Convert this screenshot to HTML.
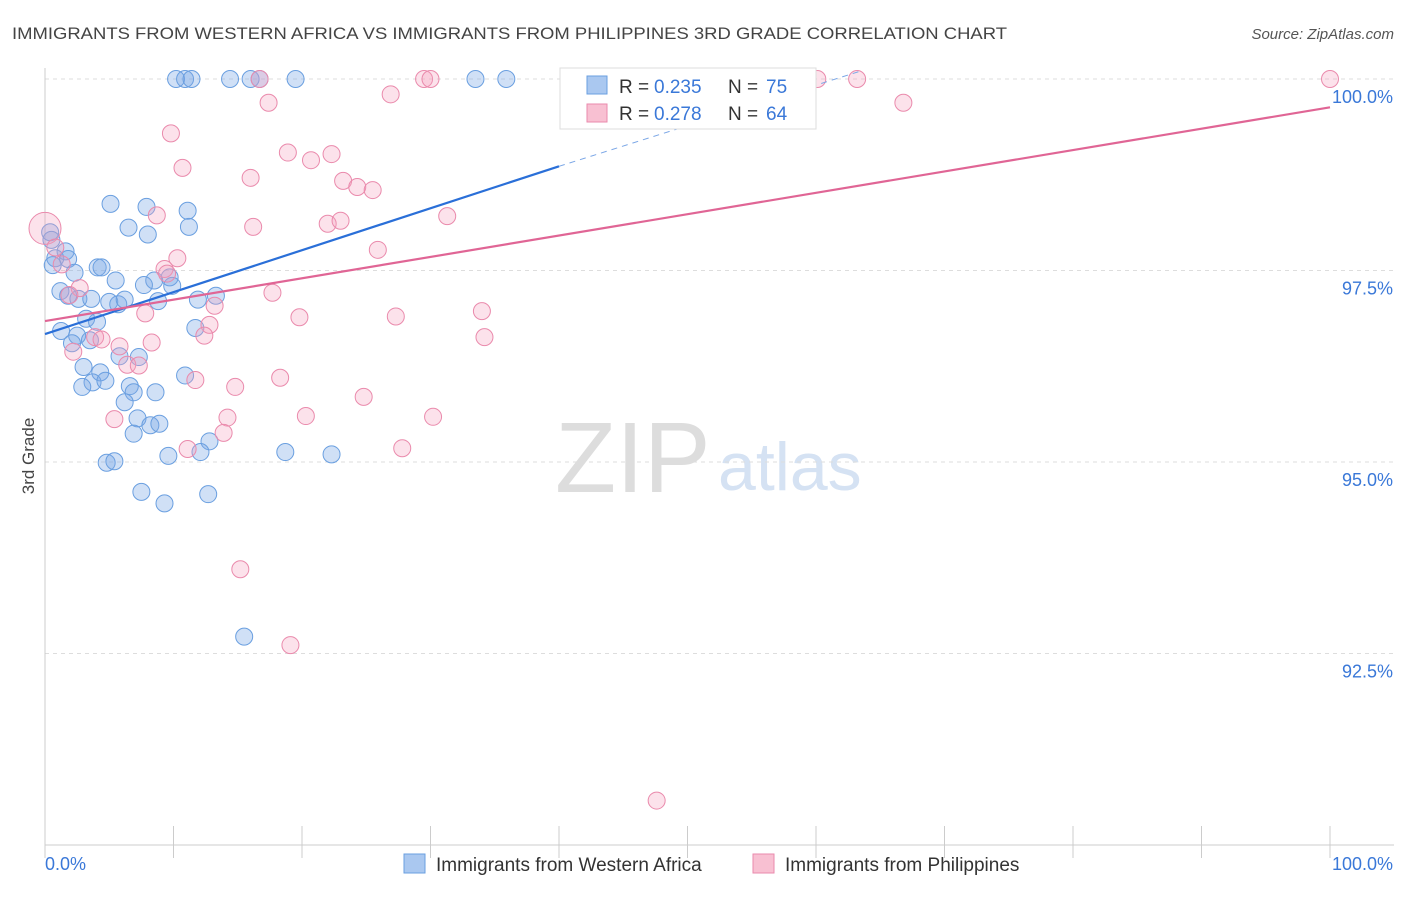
<!DOCTYPE html>
<html><head><meta charset="utf-8"><style>
body{margin:0;background:#fff;font-family:"Liberation Sans",sans-serif;}
svg text{font-family:"Liberation Sans",sans-serif;}
</style></head><body>
<svg id="chart" width="1406" height="892" xmlns="http://www.w3.org/2000/svg">
<text x="12" y="39" font-size="17" fill="#444" textLength="995" lengthAdjust="spacingAndGlyphs">IMMIGRANTS FROM WESTERN AFRICA VS IMMIGRANTS FROM PHILIPPINES 3RD GRADE CORRELATION CHART</text>
<text x="1394" y="39" font-size="15" fill="#555" font-style="italic" text-anchor="end">Source: ZipAtlas.com</text>
<text x="34" y="456" font-size="17" fill="#444" text-anchor="middle" transform="rotate(-90 34 456)">3rd Grade</text>
<text x="555" y="492" font-size="100" fill="#ddd" font-family="Liberation Serif">ZIP</text>
<text x="718" y="490" font-size="68" fill="#d5e2f3">atlas</text>
<g id="grid"></g><g id="axes"></g><g id="pts"></g><g id="trend"></g>
<g>
<rect x="560" y="68" width="256" height="61" fill="#fff" stroke="#ddd"/>
<rect x="587" y="76" width="20" height="18" fill="#aac8f0" stroke="#6a9fe0"/>
<text x="619" y="93" font-size="19" fill="#333">R =</text>
<text x="654" y="93" font-size="19" fill="#3a78d8">0.235</text>
<text x="728" y="93" font-size="19" fill="#333">N =</text>
<text x="766" y="93" font-size="19" fill="#3a78d8">75</text>
<rect x="587" y="104" width="20" height="18" fill="#f8c0d2" stroke="#ea8aac"/>
<text x="619" y="120" font-size="19" fill="#333">R =</text>
<text x="654" y="120" font-size="19" fill="#3a78d8">0.278</text>
<text x="728" y="120" font-size="19" fill="#333">N =</text>
<text x="766" y="120" font-size="19" fill="#3a78d8">64</text>
</g>
<g>
<rect x="404" y="854" width="21" height="19" fill="#aac8f0" stroke="#6a9fe0"/>
<text x="436" y="871" font-size="19" fill="#333">Immigrants from Western Africa</text>
<rect x="753" y="854" width="21" height="19" fill="#f8c0d2" stroke="#ea8aac"/>
<text x="785" y="871" font-size="19" fill="#333">Immigrants from Philippines</text>
</g>
</svg>
<script>
const yTicks=[100,97.5,95,92.5];
const yTickLabels=["100.0%","97.5%","95.0%","92.5%"];
const xTickLabels=["0.0%","100.0%"];
const blueX=[10.2,10.9,11.4,14.4,16,16.7,19.5,33.5,35.9,5.1,7.9,11.1,6.5,11.2,8,0.4,0.5,1.6,0.8,1.8,0.6,2.3,4.1,4.4,5.5,8.5,9.7,7.7,9.9,1.2,1.8,2.6,3.6,5,5.7,6.2,8.8,11.9,13.3,3.2,4.05,1.25,2.5,3.5,2.1,11.7,5.8,7.3,3,4.3,3.7,4.7,6.6,2.9,6.9,8.6,6.2,7.2,8.2,8.9,6.9,12.8,10.9,12.1,9.6,18.7,22.3,4.8,5.4,7.5,12.7,9.3,15.5];
const blueY=[100,100,100,100,100,100,100,100,100,98.37,98.33,98.28,98.06,98.07,97.97,98,97.9,97.75,97.66,97.65,97.57,97.47,97.54,97.54,97.37,97.37,97.41,97.31,97.3,97.23,97.17,97.13,97.13,97.09,97.06,97.12,97.1,97.12,97.17,96.87,96.83,96.71,96.65,96.59,96.55,96.75,96.38,96.37,96.24,96.17,96.04,96.06,95.99,95.98,95.91,95.91,95.78,95.57,95.48,95.5,95.37,95.27,96.13,95.13,95.08,95.13,95.1,94.99,95.01,94.61,94.58,94.46,92.72];
const pinkX=[0,16.7,29.5,30,60.1,63.2,100,66.8,26.9,17.4,9.8,18.9,22.3,20.7,10.7,16,23.2,24.3,25.5,8.7,31.3,16.2,22,23,25.9,10.3,0.8,1.3,9.3,9.5,2.7,1.9,17.7,13.2,7.8,19.8,27.3,34,12.8,12.4,34.2,3.9,4.4,5.8,8.3,2.2,6.4,7.3,11.7,18.3,14.8,24.8,5.4,14.2,20.3,30.2,13.9,11.1,27.8,15.2,19.1,47.6];
const pinkY=[98.05,100,100,100,100,100,100,99.69,99.8,99.69,99.29,99.04,99.02,98.94,98.84,98.71,98.67,98.59,98.55,98.22,98.21,98.07,98.11,98.15,97.77,97.66,97.8,97.58,97.52,97.46,97.27,97.18,97.21,97.04,96.94,96.89,96.9,96.97,96.79,96.65,96.63,96.63,96.6,96.51,96.56,96.44,96.27,96.26,96.07,96.1,95.98,95.85,95.56,95.58,95.6,95.59,95.38,95.17,95.18,93.6,92.61,90.58];
const blueTrend=[0,96.67,40,98.86];
const blueDash=[40,98.86,63.4,100.1];
const pinkTrend=[0,96.84,100,99.63];
const NS="http://www.w3.org/2000/svg";
const xS=v=>45+v*12.85;
const yS=v=>79+(100-v)*76.6;
function mk(t,a,p){const e=document.createElementNS(NS,t);for(const k in a)e.setAttribute(k,a[k]);p.appendChild(e);return e;}
const grid=document.getElementById('grid'),axes=document.getElementById('axes'),pts=document.getElementById('pts'),tr=document.getElementById('trend');
yTicks.forEach((t,i)=>{
 const l=mk('line',{x1:45,x2:1394,y1:yS(t),y2:yS(t),stroke:'#ddd','stroke-dasharray':'4,4'},grid);
 
 
 const tx=mk('text',{x:1393,y:yS(t)+24,'font-size':18,fill:'#3a78d8','text-anchor':'end'},grid);
 tx.textContent=yTickLabels[i];
 
 
});
const ax=mk('line',{x1:45,x2:45,y1:68,y2:845,stroke:'#ccc'},axes);


const xa=mk('line',{x1:45,x2:1394,y1:845,y2:845,stroke:'#ccc'},axes);


for(let i=0;i<=10;i++){const t=mk('line',{x1:xS(i*10),x2:xS(i*10),y1:826,y2:858,stroke:'#ccc'},axes);
 
 }
[[0,'start',45],[1,'end',1393]].forEach(([i,a,x])=>{const t=mk('text',{x:x,y:870,'font-size':18,fill:'#3a78d8','text-anchor':a},axes);t.textContent=xTickLabels[i];
 
 });
blueX.forEach((v,i)=>{const c=mk('circle',{cx:xS(v),cy:yS(blueY[i]),r:8.5,fill:'rgba(120,165,230,0.35)',stroke:'#6a9fe0','stroke-width':1},pts);
 
 });
pinkX.forEach((v,i)=>{const c=mk('circle',{cx:xS(v),cy:yS(pinkY[i]),r:i==0?16:8.5,fill:'rgba(245,160,190,0.3)',stroke:'#ea8aac','stroke-width':1},pts);
 
 });
const bt=mk('line',{x1:xS(blueTrend[0]),y1:yS(blueTrend[1]),x2:xS(blueTrend[2]),y2:yS(blueTrend[3]),stroke:'#2a6fd8','stroke-width':2.2},tr);


const bd=mk('line',{x1:xS(blueDash[0]),y1:yS(blueDash[1]),x2:xS(blueDash[2]),y2:yS(blueDash[3]),stroke:'#7aa6e6','stroke-width':1,'stroke-dasharray':'6,5'},tr);


const pt=mk('line',{x1:xS(pinkTrend[0]),y1:yS(pinkTrend[1]),x2:xS(pinkTrend[2]),y2:yS(pinkTrend[3]),stroke:'#e06595','stroke-width':2.2},tr);


</script>
</body></html>
